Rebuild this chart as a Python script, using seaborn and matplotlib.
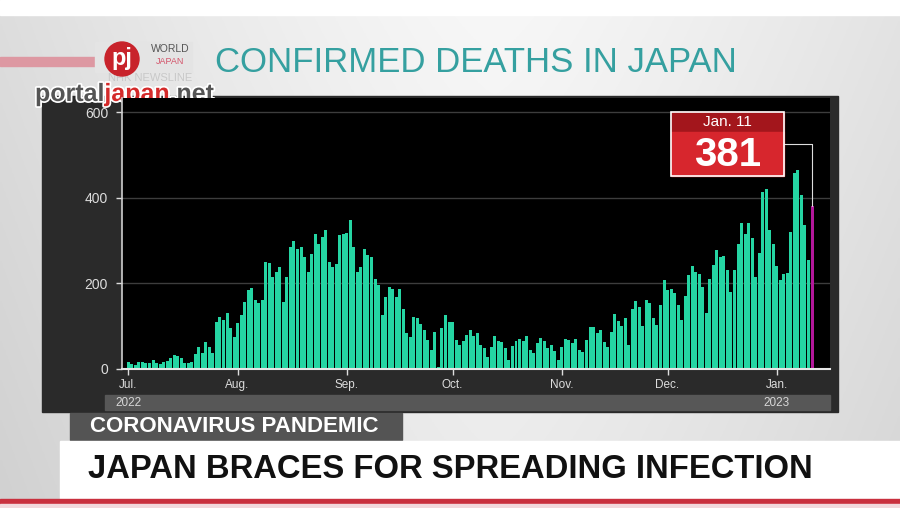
import numpy as np
import pandas as pd
import matplotlib
matplotlib.use('Agg')
import matplotlib.pyplot as plt
import matplotlib.patheffects as pe
import seaborn as sns
from matplotlib.patches import Rectangle, Circle

# daily confirmed deaths, Jul 1 2022 - Jan 11 2023
jul = [16, 12, 9, 16, 16, 15, 13, 20, 15, 12, 17, 19, 25, 33, 30, 25, 13, 15, 17, 34,
       52, 38, 64, 52, 37, 110, 122, 114, 130, 95, 75]
aug = [107, 126, 157, 184, 189, 161, 155, 161, 250, 247, 215, 227, 238, 157, 215, 285,
       300, 281, 285, 262, 227, 269, 316, 293, 308, 324, 250, 238, 246, 312, 316]
sep = [317, 347, 285, 227, 238, 281, 266, 262, 211, 196, 126, 168, 192, 188, 168, 188,
       141, 83, 75, 122, 118, 106, 91, 68, 44, 87, 4, 96, 126, 110]
oct_ = [110, 68, 55, 66, 80, 91, 78, 85, 56, 48, 27, 52, 77, 66, 64, 48, 21, 54, 66, 69,
        66, 77, 44, 37, 60, 72, 65, 48, 56, 42, 21]
nov = [51, 69, 68, 60, 71, 44, 40, 68, 97, 99, 85, 92, 64, 52, 87, 128, 112, 100, 120, 56,
       141, 159, 144, 100, 161, 153, 118, 102, 149, 209]
dec = [184, 186, 178, 149, 114, 170, 220, 240, 227, 221, 192, 130, 211, 243, 278, 262,
       264, 231, 180, 231, 293, 340, 316, 340, 305, 215, 270, 413, 421, 324, 293]
jan = [240, 207, 223, 224, 320, 458, 464, 406, 336, 254, 381]

month_labels = ['Jul.', 'Aug.', 'Sep.', 'Oct.', 'Nov.', 'Dec.', 'Jan.']
year_labels = ['2022', '2023']
y_ticks = [0, 200, 400, 600]
latest_label = 'Jan. 11'

months = [jul, aug, sep, oct_, nov, dec, jan]
deaths = [v for m in months for v in m]
month_starts = list(np.cumsum([0] + [len(m) for m in months[:-1]]))
last = len(deaths) - 1

df = pd.DataFrame({'day': np.arange(len(deaths)), 'deaths': deaths})
df['kind'] = 'past'
df.loc[last, 'kind'] = 'latest'

green = '#25d5a3'
magenta = '#b3189b'

sns.set_theme(style='dark')
plt.rcParams['font.family'] = ['Liberation Sans', 'DejaVu Sans']

fig = plt.figure(figsize=(9, 5.08), dpi=100)

# studio backdrop, drawn in pixel coordinates
bg = fig.add_axes([0, 0, 1, 1])
bg.set_xlim(0, 900)
bg.set_ylim(508, 0)
bg.axis('off')
xs = np.linspace(0, 1, 300)
ys = np.linspace(0, 1, 170)
X, Y = np.meshgrid(xs, ys)
shade = 0.97 - 0.22 * np.abs(X - 0.55) ** 1.3 - 0.05 * Y
img = np.dstack([shade, shade, shade])
bg.imshow(img, extent=[0, 900, 508, 0], aspect='auto', zorder=0)
bg.add_patch(Rectangle((0, 0), 900, 15, color='white', zorder=1))

# logo / watermark
bg.add_patch(Rectangle((0, 57), 100, 9, color='#dd98a2', zorder=2))
bg.add_patch(Rectangle((95, 42), 97, 30, color='#e4e4e4', zorder=2))
bg.text(170, 49, 'WORLD', color='#555555', fontsize=7.5, ha='center', va='center', zorder=3)
bg.text(170, 61, 'JAPAN', color='#d4546a', fontsize=6.5, ha='center', va='center', zorder=3)
bg.text(150, 78, 'NHK NEWSLINE', color='#c8c8c8', fontsize=8, ha='center', va='center', zorder=2)
bg.add_patch(Circle((122, 59), 17, color='#c8232b', zorder=4))
bg.text(122, 58, 'pj', color='white', fontsize=17, fontweight='bold', ha='center', va='center', zorder=5)

renderer = fig.canvas.get_renderer()
x0 = 35
halo = [pe.withStroke(linewidth=2.5, foreground='white')]
for word, col in [('portal', '#555555'), ('japan', '#d42a2a'), ('.net', '#555555')]:
    t = bg.text(x0, 94, word, color=col, fontsize=18, fontweight='bold',
                ha='left', va='center', zorder=5, path_effects=halo)
    ext = t.get_window_extent(renderer)
    x0 += ext.width

bg.text(476, 62, 'CONFIRMED DEATHS IN JAPAN', color='#35a0a0', fontsize=25,
        ha='center', va='center', zorder=3)

# dark chart panel and year band
bg.add_patch(Rectangle((42, 96), 796, 316, color='#2a2a2a', zorder=2))
bg.add_patch(Rectangle((105, 395), 725, 15, color='#575757', zorder=3))
bg.text(128, 403, year_labels[0], color='#d6d6d6', fontsize=8.5, ha='center', va='center', zorder=4)
bg.text(776, 403, year_labels[1], color='#d6d6d6', fontsize=8.5, ha='center', va='center', zorder=4)

# lower third
bg.add_patch(Rectangle((70, 413), 332, 27, color='#545454', zorder=2))
bg.text(90, 427, 'CORONAVIRUS PANDEMIC', color='white', fontsize=16, fontweight='bold',
        ha='left', va='center', zorder=3)
bg.add_patch(Rectangle((60, 441), 840, 58, color='white', zorder=2))
bg.text(88, 470, 'JAPAN BRACES FOR SPREADING INFECTION', color='#111111', fontsize=23.6,
        fontweight='bold', ha='left', va='center', zorder=3)
bg.add_patch(Rectangle((0, 499), 900, 5, color='#c9303e', zorder=3))
bg.add_patch(Rectangle((0, 504), 900, 4, color='#f2d8dc', zorder=3))

# the bar chart
ax = fig.add_axes([122 / 900, 1 - 369 / 508, (830 - 122) / 900, (369 - 98) / 508])
ax.set_facecolor('black')
sns.barplot(data=df, x='day', y='deaths', hue='kind',
            palette={'past': green, 'latest': magenta},
            native_scale=True, dodge=False, legend=False, width=0.85,
            saturation=1, linewidth=0, ax=ax)

ax.set_xlim(-1.8, 199.1)
ax.set_ylim(0, 633)
ax.set_xlabel('')
ax.set_ylabel('')
ax.set_yticks(y_ticks)
ax.set_yticklabels([str(t) for t in y_ticks])
ax.set_xticks(month_starts)
ax.set_xticklabels(month_labels)
ax.grid(axis='y', color='#3d3d3d', linewidth=1)
ax.grid(axis='x', visible=False)
ax.set_axisbelow(True)
for s in ['top', 'right']:
    ax.spines[s].set_visible(False)
ax.spines['left'].set_color('#cfcfcf')
ax.spines['bottom'].set_color('#e6e6e6')
ax.spines['left'].set_linewidth(1.2)
ax.spines['bottom'].set_linewidth(1.5)
ax.tick_params(axis='y', colors='#dddddd', labelsize=10, length=4, width=1, pad=6, direction='out', left=True)
ax.tick_params(axis='x', colors='#dddddd', labelsize=8.5, length=4, width=1, pad=3, direction='out', bottom=True)

# callout for the latest day
ax.add_patch(Rectangle((153.9, 451), 32.1, 149, facecolor='none', edgecolor='white', lw=1.2, zorder=5))
ax.add_patch(Rectangle((153.9, 553), 32.1, 47, color='#a3161c', zorder=4))
ax.add_patch(Rectangle((153.9, 451), 32.1, 102, color='#d7262d', zorder=4))
ax.text(170, 577, latest_label, color='white', fontsize=11, ha='center', va='center', zorder=6)
ax.text(170, 501, str(deaths[last]), color='white', fontsize=29, fontweight='bold',
        ha='center', va='center', zorder=6)
ax.plot([186, last], [525, 525], color='#dddddd', lw=0.8, zorder=4)
ax.plot([last, last], [525, deaths[last]], color='#dddddd', lw=0.8, zorder=4)

fig.savefig('out.png', dpi=100)
